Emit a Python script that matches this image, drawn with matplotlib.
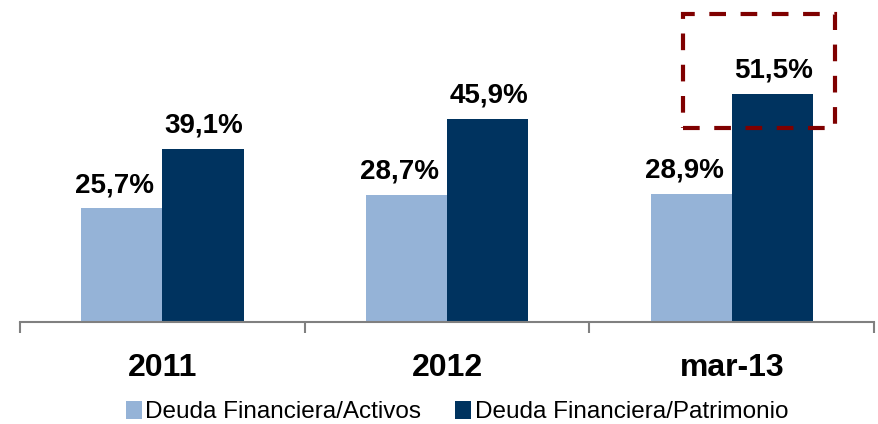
import matplotlib.pyplot as plt
from matplotlib.patches import Rectangle

categories = ['2011', '2012', 'mar-13']
activos = [25.7, 28.7, 28.9]
patrimonio = [39.1, 45.9, 51.5]
labels_activos = ['25,7%', '28,7%', '28,9%']
labels_patrimonio = ['39,1%', '45,9%', '51,5%']

plt.rcParams['font.family'] = ['Liberation Sans', 'DejaVu Sans']

light = '#95B3D7'
dark = '#00335F'

fig = plt.figure(figsize=(8.79, 4.24), dpi=100)
ax = fig.add_axes([0.0228, 0.2406, 0.9716, 0.627])

x = list(range(len(categories)))
w = 0.285
b1 = ax.bar([i - w / 2 for i in x], activos, w, color=light, label='Deuda Financiera/Activos')
b2 = ax.bar([i + w / 2 for i in x], patrimonio, w, color=dark, label='Deuda Financiera/Patrimonio')

for rect, lab in zip(b1, labels_activos):
    ax.annotate(lab, (rect.get_x() + rect.get_width() / 2, rect.get_height()),
                xytext=(-7, 10), textcoords='offset pixels', ha='center', va='bottom',
                fontsize=20, fontweight='bold')
for rect, lab in zip(b2, labels_patrimonio):
    ax.annotate(lab, (rect.get_x() + rect.get_width() / 2, rect.get_height()),
                xytext=(1, 10), textcoords='offset pixels', ha='center', va='bottom',
                fontsize=20, fontweight='bold')

ax.set_xlim(-0.5, 2.5)
ax.set_ylim(0, 60)
for s in ['top', 'right', 'left']:
    ax.spines[s].set_visible(False)
ax.spines['bottom'].set_color('#808080')
ax.spines['bottom'].set_linewidth(1.5)
ax.set_yticks([])
ax.set_xticks(x)
ax.set_xticklabels(categories, fontsize=23, fontweight='bold')
ax.tick_params(axis='x', which='major', length=0, pad=22)
ax.set_xticks([-0.5, 0.5, 1.5, 2.5], minor=True)
ax.tick_params(axis='x', which='minor', length=8, width=1.5, color='#808080', direction='out')

# highlight box around last value
box = Rectangle((683 / 879, 1 - 128 / 424), (835 - 683) / 879, (128 - 14) / 424,
                transform=fig.transFigure, fill=False, edgecolor='#7f0000',
                linewidth=3, linestyle=(0, (4, 3.5)), clip_on=False)
fig.patches.append(box)

fig.legend(handles=[b1, b2], loc='lower center', bbox_to_anchor=(0.52, -0.05), ncol=2,
           frameon=False, fontsize=17.5, handlelength=0.65, handleheight=0.75,
           handletextpad=0.15, columnspacing=1.4)

fig.savefig('out.png', dpi=100)
plt.close(fig)
